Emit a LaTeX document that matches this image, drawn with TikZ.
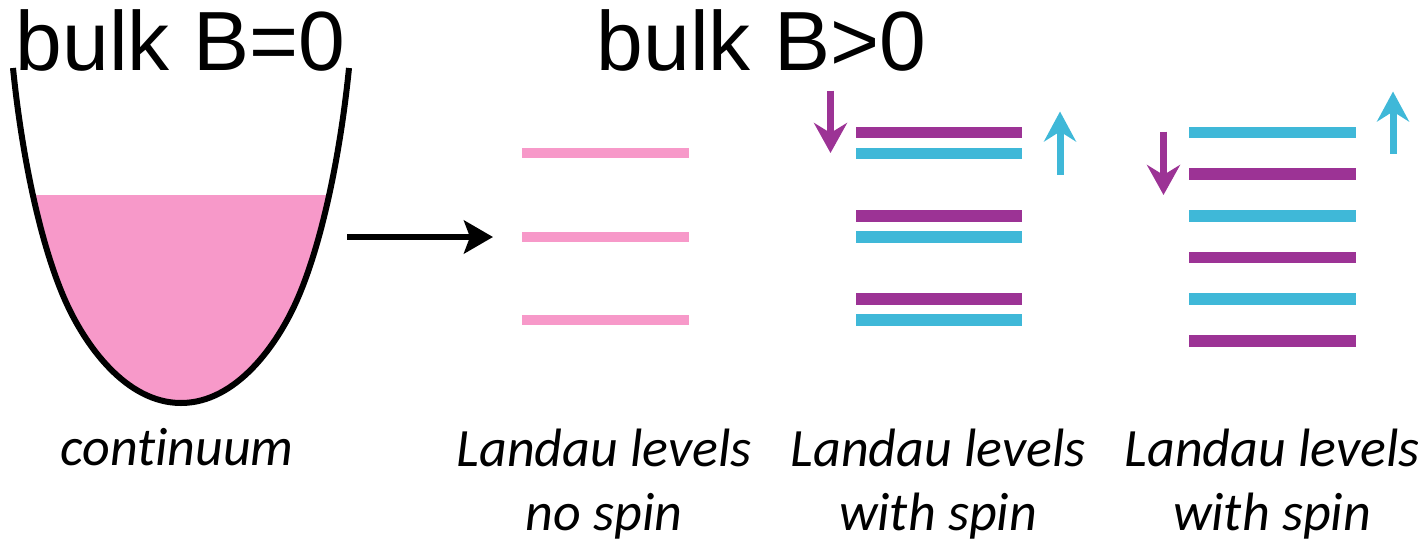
\documentclass[tikz,border=0pt]{standalone}
\usepackage{fontspec}
\setmainfont{Liberation Sans}
\newfontfamily\labfont[Ligatures={NoCommon,NoRare,NoDiscretionary}]{Carlito}
\usetikzlibrary{arrows.meta}
\definecolor{pinkfill}{HTML}{F799C9}
\definecolor{spinpurple}{HTML}{9C3395}
\definecolor{spincyan}{HTML}{3FB8D8}
\tikzset{
  titletext/.style={inner sep=0pt, anchor=base, font=\fontsize{84}{88}\selectfont},
  labtext/.style={inner sep=0pt, anchor=base, font=\labfont\itshape\fontsize{54}{58}\selectfont},
  pinklevel/.style={draw=pinkfill, line width=10.5pt},
  uplevel/.style={draw=spincyan, line width=11.5pt},
  downlevel/.style={draw=spinpurple, line width=11.5pt},
  downspin/.style={draw=spinpurple, line width=7pt, -{Stealth[length=30pt, width=33pt, inset=10pt]}},
  upspin/.style={draw=spincyan, line width=7pt, -{Stealth[length=30pt, width=32pt, inset=10pt]}},
  bigarrow/.style={draw=black, line width=6.7pt, -{Stealth[length=29pt, width=33pt, inset=6pt]}}
}
\begin{document}
\begin{tikzpicture}[x=1pt,y=-1pt]
\useasboundingbox (0,0) rectangle (1418,544);
% well
\def\wellpath{(13,68) .. controls (21,148) and (38.6,240) .. (65,300) .. controls (84.8,345) and (126,403) .. (181,403) .. controls (236,403) and (277.2,345) .. (297,300) .. controls (323.4,240) and (341,148) .. (349,68)}
\begin{scope}
  \clip (0,195) rectangle (400,460);
  \fill[pinkfill] \wellpath -- cycle;
\end{scope}
\draw[line width=6pt] \wellpath;
% titles
\node[titletext] (t0) at (180.5,70) {bulk B=0};
\node[titletext] (t1) at (761.5,70) {bulk B>0};
% big arrow
\coordinate (a0) at (347,237);
\coordinate (a1) at (493,237);
\draw[bigarrow] (a0) -- (a1);
% column 1: pink levels
\foreach \y in {153,237,320} {
  \draw[pinklevel] (522,\y) -- (689,\y);
}
% column 2
\foreach \y in {132.5,216,299} {
  \draw[downlevel] (856,\y) -- (1022,\y);
}
\foreach \y in {153.5,237,320} {
  \draw[uplevel] (856,\y) -- (1022,\y);
}
\coordinate (d2a) at (830.5,90.5);
\coordinate (d2b) at (830.5,153);
\draw[downspin] (d2a) -- (d2b);
\coordinate (u2a) at (1060,174.5);
\coordinate (u2b) at (1060,111.5);
\draw[upspin] (u2a) -- (u2b);
% column 3
\foreach \y in {132.5,216,299} {
  \draw[uplevel] (1189,\y) -- (1356,\y);
}
\foreach \y in {174,257.5,341} {
  \draw[downlevel] (1189,\y) -- (1356,\y);
}
\coordinate (d3a) at (1163.5,131.5);
\coordinate (d3b) at (1163.5,195);
\draw[downspin] (d3a) -- (d3b);
\coordinate (u3a) at (1393,153.5);
\coordinate (u3b) at (1393,91.5);
\draw[upspin] (u3a) -- (u3b);
% labels
\node[labtext] (l0) at (177,465) {continuum};
\node[labtext] (l1a) at (604,466) {Landau levels};
\node[labtext] (l1b) at (604,530) {no spin};
\node[labtext] (l2a) at (938,466) {Landau levels};
\node[labtext] (l2b) at (938,530) {with spin};
\node[labtext] (l3a) at (1272,466) {Landau levels};
\node[labtext] (l3b) at (1272,530) {with spin};
\end{tikzpicture}
\end{document}
